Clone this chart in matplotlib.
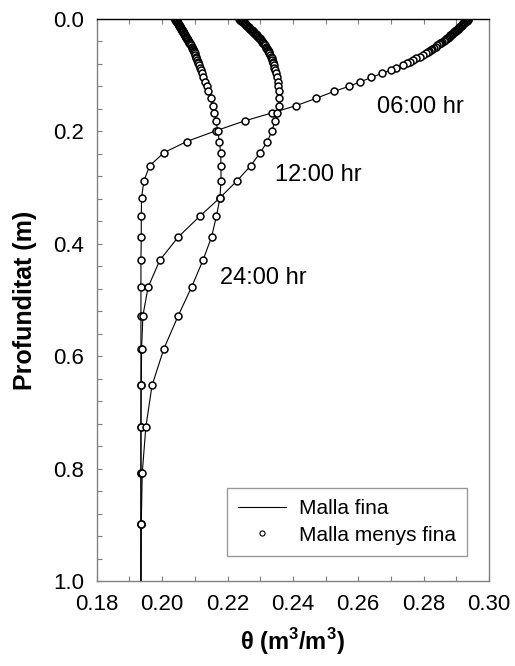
import matplotlib
matplotlib.use('Agg')
import matplotlib.pyplot as plt
from matplotlib.ticker import MultipleLocator
import numpy as np

plt.rcParams['font.family'] = ['Liberation Sans', 'DejaVu Sans']
plt.rcParams['mathtext.fontset'] = 'custom'
plt.rcParams['mathtext.rm'] = 'Liberation Sans'
plt.rcParams['mathtext.bf'] = 'Liberation Sans:bold'

# depth of the nodes (m), very fine near the surface
depth = [0.000, 0.001, 0.002, 0.003, 0.004, 0.005, 0.006, 0.007, 0.008, 0.009,
         0.010, 0.011, 0.012, 0.013, 0.014, 0.015, 0.016, 0.017, 0.018, 0.019,
         0.020, 0.021, 0.022, 0.023, 0.024, 0.025, 0.026, 0.027, 0.028, 0.029,
         0.030, 0.0315, 0.033, 0.0345, 0.036, 0.0375, 0.039, 0.0405, 0.042, 0.0435,
         0.045, 0.047, 0.049, 0.051, 0.053, 0.055, 0.057, 0.059, 0.061,
         0.064, 0.067, 0.070, 0.073, 0.076, 0.079, 0.082,
         0.087, 0.091, 0.097, 0.104, 0.112, 0.120, 0.129,
         0.141, 0.154, 0.167, 0.181, 0.199, 0.218, 0.238, 0.261, 0.288, 0.318,
         0.351, 0.388, 0.429, 0.477, 0.528, 0.587, 0.652, 0.726, 0.808, 0.899,
         1.000]

# water content at 06:00, 12:00 and 24:00 hr (m3/m3)
theta_06 = [0.2937, 0.2935, 0.2933, 0.2932, 0.2930, 0.2928, 0.2926, 0.2924, 0.2922, 0.2920,
            0.2919, 0.2917, 0.2915, 0.2913, 0.2911, 0.2909, 0.2908, 0.2906, 0.2904, 0.2902,
            0.2900, 0.2898, 0.2896, 0.2894, 0.2892, 0.2890, 0.2888, 0.2886, 0.2884, 0.2882,
            0.2880, 0.2877, 0.2874, 0.2871, 0.2868, 0.2864, 0.2861, 0.2857, 0.2854, 0.2850,
            0.2847, 0.2842, 0.2837, 0.2832, 0.2827, 0.2822, 0.2817, 0.2812, 0.2807,
            0.2799, 0.2789, 0.2778, 0.2768, 0.2758, 0.2748, 0.2738,
            0.2716, 0.2700, 0.2672, 0.2640, 0.2606, 0.2571, 0.2525,
            0.2472, 0.2411, 0.2337, 0.2254, 0.2164, 0.2075, 0.2005, 0.1962, 0.1944, 0.1937,
            0.1936, 0.1936, 0.1935, 0.1935, 0.1935, 0.1935, 0.1935, 0.1935, 0.1935, 0.1935,
            0.1935]

theta_12 = [0.2236, 0.2238, 0.2240, 0.2242, 0.2244, 0.2246, 0.2248, 0.2250, 0.2252, 0.2254,
            0.2256, 0.2258, 0.2260, 0.2261, 0.2263, 0.2265, 0.2267, 0.2268, 0.2270, 0.2272,
            0.2274, 0.2275, 0.2277, 0.2279, 0.2281, 0.2282, 0.2284, 0.2286, 0.2288, 0.2289,
            0.2291, 0.2293, 0.2296, 0.2298, 0.2300, 0.2302, 0.2304, 0.2306, 0.2308, 0.2310,
            0.2312, 0.2315, 0.2317, 0.2319, 0.2322, 0.2324, 0.2325, 0.2327, 0.2328,
            0.2331, 0.2333, 0.2335, 0.2337, 0.2338, 0.2340, 0.2341,
            0.2343, 0.2345, 0.2348, 0.2350, 0.2353, 0.2355, 0.2356,
            0.2357, 0.2356, 0.2351, 0.2345, 0.2336, 0.2322, 0.2300, 0.2271, 0.2229, 0.2177,
            0.2115, 0.2049, 0.1993, 0.1957, 0.1941, 0.1937, 0.1936, 0.1935, 0.1935, 0.1935,
            0.1935]

theta_24 = [0.2039, 0.2040, 0.2041, 0.2043, 0.2044, 0.2045, 0.2046, 0.2047, 0.2048, 0.2049,
            0.2050, 0.2052, 0.2053, 0.2054, 0.2055, 0.2056, 0.2057, 0.2058, 0.2059, 0.2060,
            0.2061, 0.2062, 0.2063, 0.2064, 0.2065, 0.2066, 0.2067, 0.2068, 0.2069, 0.2070,
            0.2071, 0.2073, 0.2074, 0.2076, 0.2077, 0.2079, 0.2080, 0.2082, 0.2083, 0.2085,
            0.2086, 0.2088, 0.2090, 0.2091, 0.2093, 0.2095, 0.2096, 0.2098, 0.2099,
            0.2101, 0.2103, 0.2105, 0.2107, 0.2109, 0.2111, 0.2113,
            0.2116, 0.2119, 0.2122, 0.2126, 0.2131, 0.2136, 0.2141,
            0.2148, 0.2155, 0.2160, 0.2165, 0.2170, 0.2175, 0.2179, 0.2180, 0.2180, 0.2177,
            0.2166, 0.2151, 0.2125, 0.2090, 0.2049, 0.2005, 0.1969, 0.1950, 0.1939, 0.1936,
            0.1935]

series = [theta_06, theta_12, theta_24]
labels = ['06:00 hr', '12:00 hr', '24:00 hr']
label_pos = [(0.2656, 0.157), (0.2345, 0.277), (0.2176, 0.461)]

gray = '#808080'

fig = plt.figure(figsize=(5.15, 6.66), dpi=100)
ax = fig.add_axes([0.188, 0.1276, 0.7614, 0.8439])

for th in series:
    ax.plot(th, depth, color='black', lw=0.8, zorder=2)
    # last node sits on the bottom axis and is not shown
    ax.plot(th[:-1], depth[:-1], ls='none', marker='o', ms=5, mfc='white',
            mec='black', mew=1.1, zorder=3, snap=False)

for lab, (x, y) in zip(labels, label_pos):
    ax.text(x, y, lab, fontsize=17, ha='left', va='center')

ax.set_xlim(0.18, 0.30)
ax.set_ylim(1.0, 0.0)
ax.xaxis.set_major_locator(MultipleLocator(0.02))
ax.xaxis.set_minor_locator(MultipleLocator(0.01))
ax.yaxis.set_major_locator(MultipleLocator(0.2))
ax.yaxis.set_minor_locator(MultipleLocator(0.04))
ax.xaxis.set_major_formatter(plt.FormatStrFormatter('%.2f'))
ax.yaxis.set_major_formatter(plt.FormatStrFormatter('%.1f'))

ax.tick_params(axis='x', which='both', direction='in', top=True, bottom=True,
               length=3.5, width=0.8, color=gray, labelsize=16, pad=9)
ax.tick_params(axis='y', which='both', direction='in', left=True, right=False,
               length=3.5, width=0.8, color=gray, labelsize=16, pad=9)

for side in ['left', 'bottom', 'right']:
    ax.spines[side].set_color(gray)
    ax.spines[side].set_linewidth(1.0)
ax.spines['top'].set_color('black')
ax.spines['top'].set_linewidth(1.0)

ax.set_xlabel(r'$\mathbf{\theta}$ (m$^\mathbf{3}$/m$^\mathbf{3}$)', fontsize=17,
              fontweight='bold', labelpad=8)
ax.set_ylabel('Profunditat (m)', fontsize=18, fontweight='bold', labelpad=12)

h1, = ax.plot([], [], color='black', lw=0.8)
h2, = ax.plot([], [], ls='none', marker='o', ms=3.7, mfc='white', mec='black', mew=0.8)
leg = ax.legend([h1, h2], ['Malla fina', 'Malla menys fina'], loc='lower right',
                bbox_to_anchor=(0.944, 0.0445), borderaxespad=0, fontsize=15,
                frameon=True, fancybox=False, handlelength=2.3, handletextpad=0.6,
                labelspacing=0.35, borderpad=0.55)
leg.get_frame().set_edgecolor(gray)
leg.get_frame().set_linewidth(1.0)

fig.savefig('out.png', dpi=100)
